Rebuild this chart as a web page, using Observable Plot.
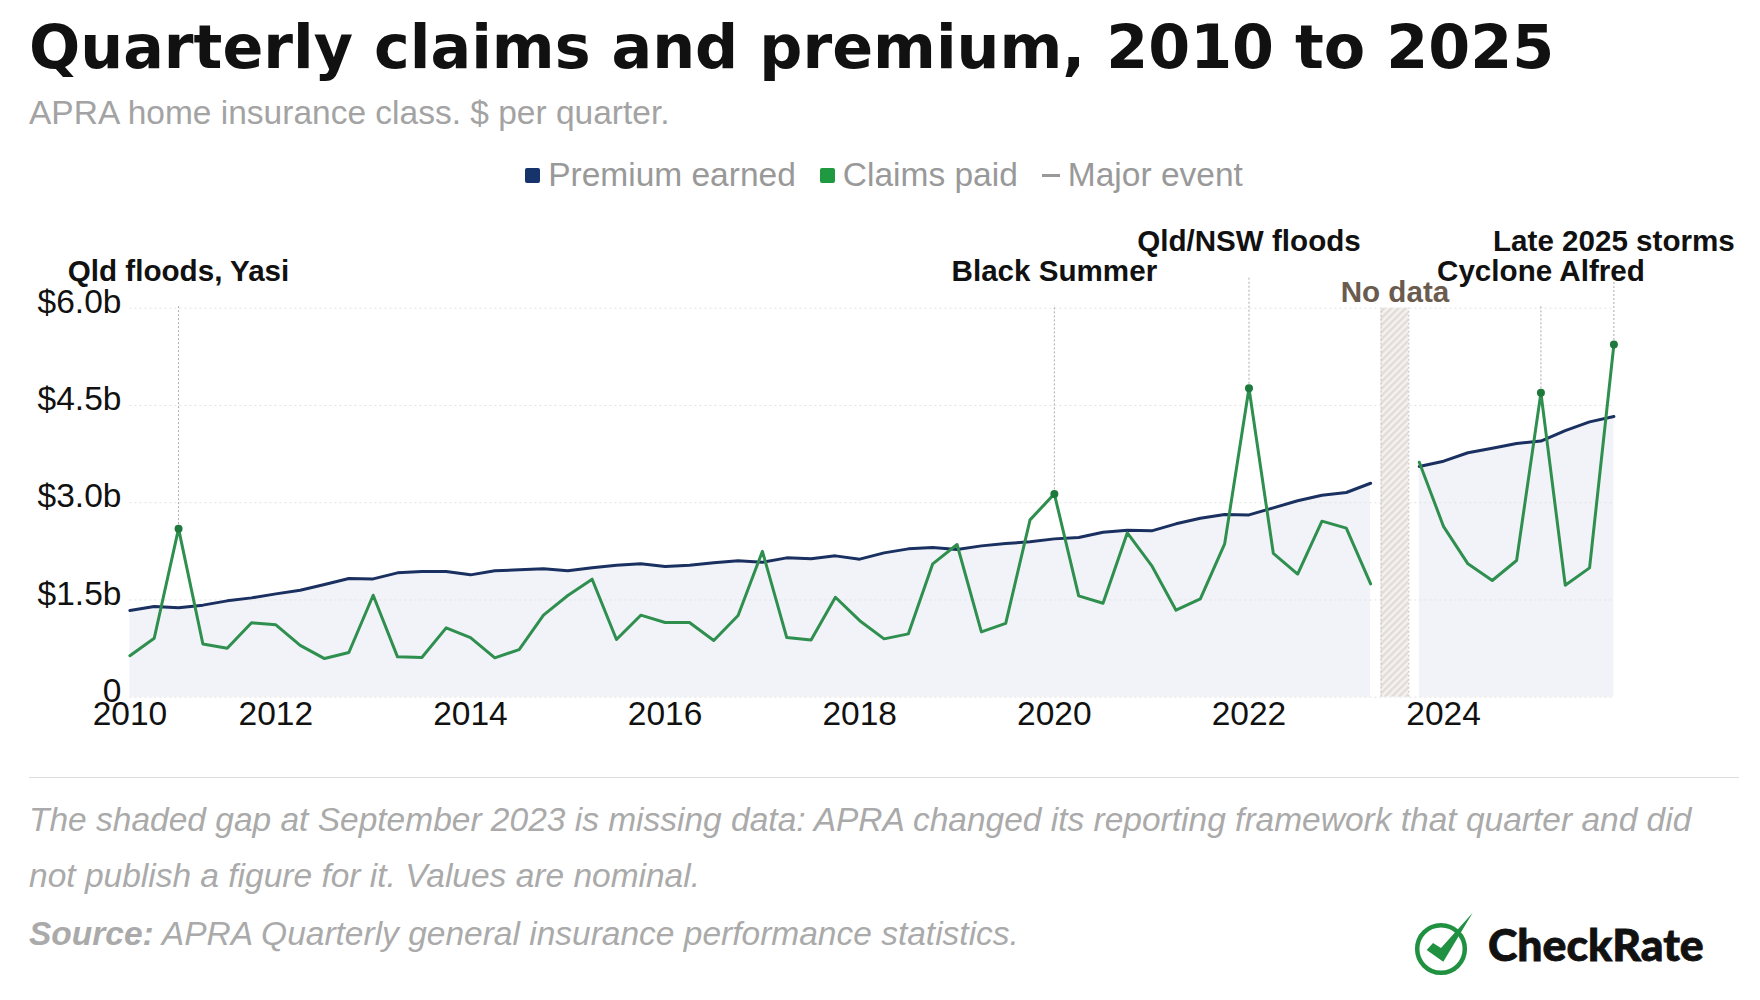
<!DOCTYPE html>
<html><head><meta charset="utf-8">
<script src="https://cdn.jsdelivr.net/npm/d3@7"></script>
<script src="https://cdn.jsdelivr.net/npm/@observablehq/plot@0.6"></script>
<style>
html,body{margin:0;padding:0;background:#fff}
#page{position:relative;width:1760px;height:1000px;overflow:hidden;font-family:"Liberation Sans",Arial,sans-serif}
h1{position:absolute;left:29px;top:12px;margin:0;font:700 60.3px "DejaVu Sans",sans-serif;color:#111;white-space:nowrap}
#sub{position:absolute;left:29px;top:94px;font-size:33.5px;color:#a3a3a3;white-space:nowrap}
#legend{position:absolute;left:0;top:155px;width:1760px;display:flex;justify-content:center;gap:24px;font-size:33.5px;color:#999;line-height:40px;transform:translateX(4px)}
#legend span.i{display:flex;align-items:center;gap:8px}
#legend i{display:inline-block;width:15px;height:15px;border-radius:2px}
#legend i.d{height:3px;width:18px;border-radius:0;background:#999}
#chart{position:absolute;left:0;top:220px}
hr{position:absolute;left:29px;top:777px;width:1710px;margin:0;border:0;border-top:1px solid #ddd}
.n{position:absolute;left:29px;font-size:33.5px;font-style:italic;color:#aaa;white-space:nowrap;line-height:40px}
#logo{position:absolute;left:1400px;top:900px}
</style></head><body>
<div id="page">
<h1>Quarterly claims and premium, 2010 to 2025</h1>
<div id="sub">APRA home insurance class. $ per quarter.</div>
<div id="legend"><span class="i"><i style="background:#17336b"></i>Premium earned</span><span class="i"><i style="background:#1f9a40"></i>Claims paid</span><span class="i"><i class="d"></i>Major event</span></div>
<div id="chart"></div>
<hr>
<div class="n" style="top:800px">The shaded gap at September 2023 is missing data: APRA changed its reporting framework that quarter and did</div>
<div class="n" style="top:856px">not publish a figure for it. Values are nominal.</div>
<div class="n" style="top:914px"><b>Source:</b> APRA Quarterly general insurance performance statistics.</div>
<svg id="logo" width="320" height="100" viewBox="0 0 320 100">
<circle cx="41" cy="49" r="23.8" fill="none" stroke="#1f9140" stroke-width="4.5"/>
<path d="M26.7 50 L33 43 L41 48 L72.7 12.7 L43.3 61.7 Z" fill="#1f9140"/>
<text x="88" y="61" font-family="Lato" font-weight="900" font-size="44.5" fill="#111" stroke="#111" stroke-width="0.8">CheckRate</text>
</svg>
</div>
<script>
// Quarter index 0 = Sep 2010, one step per quarter; index 52 (Sep 2023) is missing
const premium = [1.337,1.40,1.378,1.42,1.486,1.532,1.594,1.65,1.738,1.83,1.825,1.918,1.938,1.938,1.887,1.949,1.964,1.98,1.949,1.995,2.036,2.057,2.015,2.036,2.072,2.103,2.082,2.149,2.134,2.18,2.129,2.226,2.288,2.308,2.278,2.334,2.37,2.396,2.442,2.463,2.545,2.576,2.566,2.674,2.761,2.817,2.812,2.92,3.03,3.116,3.157,3.30,null,3.558,3.64,3.77,3.84,3.913,3.95,4.113,4.247,4.33];
const claims = [0.64,0.91,2.60,0.82,0.756,1.147,1.116,0.80,0.596,0.69,1.573,0.622,0.612,1.07,0.92,0.607,0.735,1.265,1.568,1.82,0.89,1.265,1.152,1.152,0.874,1.26,2.25,0.92,0.884,1.542,1.18,0.90,0.977,2.057,2.355,1.008,1.14,2.735,3.136,1.563,1.45,2.535,2.03,1.342,1.517,2.365,4.766,2.22,1.90,2.715,2.607,1.748,null,3.625,2.63,2.057,1.80,2.108,4.694,1.728,1.995,5.44];
const quarterIndex = premium.map((_, i) => i);
const xTickQuarters = [0,6,14,22,30,38,46,54];
const xTickLabels = ["2010","2012","2014","2016","2018","2020","2022","2024"];
const yTicks = [0,1.5,3,4.5,6];
const yTickLabels = ["0","$1.5b","$3.0b","$4.5b","$6.0b"];
const eventQuarters = [2,38,46,58,61];
const eventNames = ["Qld floods, Yasi","Black Summer","Qld/NSW floods","Cyclone Alfred","Late 2025 storms"];
const eventTier = [0,0,1,0,1];
const gapQuarter = 52;

const series = quarterIndex.map(i => ({q:i, premium:premium[i], claims:claims[i]}));
const events = eventQuarters.map((q,i) => ({q, name:eventNames[i], tier:eventTier[i], v:claims[q]}));

const plot = Plot.plot({
  width:1760, height:540, marginLeft:129.4, marginRight:146.6, marginTop:87.7, marginBottom:63.3,
  style:{fontFamily:'"Liberation Sans",Arial,sans-serif', background:"transparent", overflow:"visible"},
  x:{type:"linear", domain:[0,61]},
  y:{domain:[0,6]},
  marks:[
    Plot.areaY(series,{x:"q", y1:0, y2:"premium", fill:"#f1f3f8"}),
    Plot.ruleY(yTicks,{stroke:"#e2e2e2", strokeWidth:1, strokeDasharray:"2,3"}),
    Plot.rect([gapQuarter],{x1:d=>d-0.57, x2:d=>d+0.57, y1:0, y2:6, fill:"url(#hatch)"}),
    Plot.ruleX([gapQuarter-0.57,gapQuarter+0.57],{y1:0,y2:6,stroke:"#c9c2bc",strokeWidth:1,strokeDasharray:"2,2"}),
    Plot.ruleX(events.filter(d=>d.tier===0),{x:"q", y1:"v", y2:6.04, stroke:"#aaa", strokeWidth:1, strokeDasharray:"2,2"}),
    Plot.ruleX(events.filter(d=>d.tier===1),{x:"q", y1:"v", y2:6.47, stroke:"#aaa", strokeWidth:1, strokeDasharray:"2,2"}),
    Plot.line(series,{x:"q", y:"premium", stroke:"#1a3060", strokeWidth:3}),
    Plot.line(series,{x:"q", y:"claims", stroke:"#2f8f4e", strokeWidth:3}),
    Plot.dot(events,{x:"q", y:"v", r:4, fill:"#1e7a3c"}),
    Plot.axisY({ticks:yTicks, tickFormat:d=>yTickLabels[yTicks.indexOf(d)], tickSize:0, tickPadding:8.5, fontSize:33.5, dy:-6, label:null, fill:"#111"}),
    Plot.axisX({ticks:xTickQuarters, tickFormat:d=>xTickLabels[xTickQuarters.indexOf(d)], tickSize:0, tickPadding:4, fontSize:33.5, label:null, fill:"#111"}),
    Plot.text(events.filter(d=>d.tier===0),{x:"q", y:6, text:"name", dy:-37, fontSize:29.6, fontWeight:700, fill:"#111"}),
    Plot.text(events.filter(d=>d.tier===1),{x:"q", y:6, text:"name", dy:-66.5, fontSize:29.6, fontWeight:700, fill:"#111"}),
    Plot.text([gapQuarter],{x:d=>d, y:6, text:()=>"No data", dy:-16, fontSize:29.6, fontWeight:700, fill:"#6b5b4f"})
  ]
});
plot.insertAdjacentHTML("afterbegin",'<defs><pattern id="hatch" width="5" height="5" patternUnits="userSpaceOnUse" patternTransform="rotate(45)"><rect width="5" height="5" fill="#f4f1ef"/><rect width="2.4" height="5" fill="#e2dcd7"/></pattern></defs>');
document.getElementById("chart").appendChild(plot);
</script>
</body></html>
